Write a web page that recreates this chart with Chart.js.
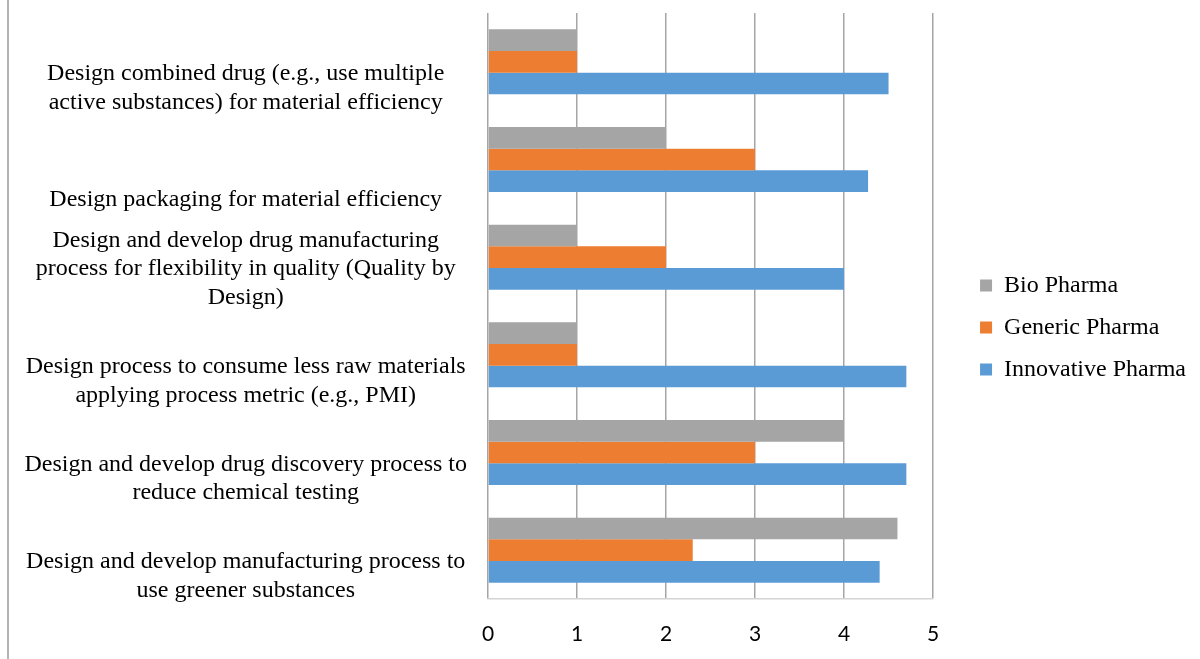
<!DOCTYPE html>
<html>
<head>
<meta charset="utf-8">
<script src="https://cdn.jsdelivr.net/npm/chart.js@4/dist/chart.umd.min.js"></script>
<style>
  html, body { margin: 0; padding: 0; background: #fff; }
  .wrapper { position: relative; width: 1200px; height: 659px; }
  .edge { position: absolute; left: 7px; top: 0; width: 2px; height: 659px; background: #b4b4b4; }
</style>
</head>
<body>
<div class="wrapper">
  <div class="edge"></div>
  <canvas id="chart" width="1200" height="659"></canvas>
</div>
<script>
// categories, top to bottom (blank lines keep the Excel-like label placement)
const categories = [
  ["", "Design combined drug (e.g., use multiple", "active substances) for material efficiency"],
  ["", "", "Design packaging for material efficiency"],
  ["Design and develop drug manufacturing", "process for flexibility in quality (Quality by", "Design)"],
  ["", "Design process to consume less raw materials", "applying process metric (e.g., PMI)"],
  ["", "Design and develop drug discovery process to", "reduce chemical testing"],
  ["", "Design and develop manufacturing process to", "use greener substances"]
];

const seriesNames = ["Bio Pharma", "Generic Pharma", "Innovative Pharma"];
const bioPharma = [1, 2, 1, 1, 4, 4.6];
const genericPharma = [1, 3, 2, 1, 3, 2.3];
const innovativePharma = [4.5, 4.27, 4, 4.7, 4.7, 4.4];
const xTicks = [0, 1, 2, 3, 4, 5];

const colors = ["#a5a5a5", "#ed7d31", "#5b9bd5"];
const serif = "'Liberation Serif', 'Times New Roman', serif";

const ctx = document.getElementById("chart").getContext("2d");
new Chart(ctx, {
  type: "bar",
  data: {
    labels: categories,
    datasets: [bioPharma, genericPharma, innovativePharma].map((values, i) => ({
      label: seriesNames[i],
      data: values,
      backgroundColor: colors[i],
      borderWidth: 0,
      barPercentage: 1,
      categoryPercentage: 0.665
    }))
  },
  options: {
    indexAxis: "y",
    responsive: false,
    animation: false,
    layout: { padding: { left: 0, right: 4, top: 0, bottom: 4 } },
    plugins: {
      tooltip: { enabled: false },
      legend: {
        position: "right",
        maxWidth: 320,
        labels: {
          boxWidth: 12,
          boxHeight: 12,
          padding: 18,
          color: "#000",
          font: { family: serif, size: 24 }
        }
      }
    },
    scales: {
      x: {
        min: 0,
        max: 5,
        afterBuildTicks: (scale) => { scale.ticks = xTicks.map(v => ({ value: v })); },
        afterFit: (scale) => { scale.height = 56; },
        grid: { color: "#a5a5a5", lineWidth: 1.5, drawTicks: false },
        border: { color: "#d4d4d4", width: 1.5 },
        ticks: {
          padding: 23,
          color: "#000",
          font: { family: "Lato, 'Liberation Sans', sans-serif", size: 21 }
        }
      },
      y: {
        afterFit: (scale) => {
          scale.width = 488;
          scale.paddingTop = 13;
          scale.paddingBottom = 0;
        },
        grid: { display: false, drawTicks: false },
        border: { display: false },
        ticks: {
          autoSkip: false,
          crossAlign: "center",
          padding: 21,
          labelOffset: 12,
          color: "#000",
          font: { family: serif, size: 24, lineHeight: 1.19 }
        }
      },
      // empty spacer between the plot and the legend
      gap: {
        type: "linear",
        position: "right",
        display: true,
        afterFit: (scale) => { scale.width = 29; },
        grid: { display: false, drawTicks: false },
        border: { display: false },
        ticks: { display: false }
      }
    }
  }
});
</script>
</body>
</html>
